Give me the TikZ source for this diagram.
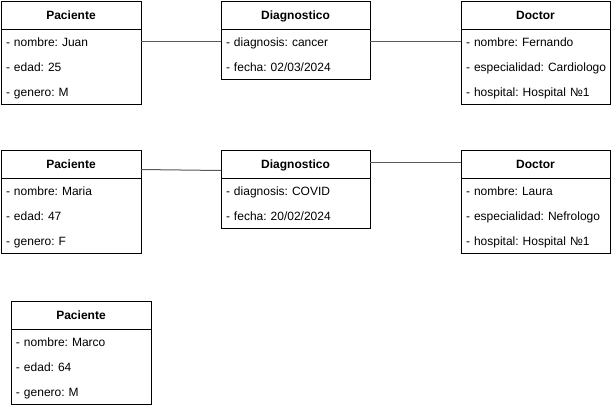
\documentclass[tikz,border=0pt]{standalone}
\usepackage{fontspec}
\setmainfont{Liberation Sans}
\usepackage{tikz}
\usetikzlibrary{positioning}
\newcommand{\attr}[1]{\strut\mbox{- #1}}
\tikzset{
  classhead/.style={draw,line width=1pt,outer sep=0pt,inner sep=0pt,anchor=north west,
              minimum height=28pt,text height=8.6pt,text depth=0pt,
              font=\fontsize{12}{14}\selectfont\bfseries},
  classbody/.style={draw,line width=1pt,outer sep=0pt,inner xsep=5pt,inner ysep=0pt,
              align=left,font=\fontsize{12}{25}\selectfont\frenchspacing},
  link/.style={draw=black!65,line width=1pt}
}

\begin{document}
\begin{tikzpicture}[x=1pt,y=-1pt]
  \path[use as bounding box,fill=white] (0,0) rectangle (612,405);

  % primer diagnostico
  \node[classhead,minimum width=140pt] (pacJuan) at (1,1) {Paciente};
  \node[classbody,text width=130pt,below=0pt of pacJuan] (pacJuanAttr)
    {\attr{nombre: Juan}\\\attr{edad: 25}\\\attr{genero: M}};
  \node[classhead,minimum width=149pt] (diagJuan) at (221,1) {Diagnostico};
  \node[classbody,text width=139pt,below=0pt of diagJuan] (diagJuanAttr)
    {\attr{diagnosis: cancer}\\\attr{fecha: 02/03/2024}};
  \node[classhead,minimum width=149pt] (docFernando) at (461,1) {Doctor};
  \node[classbody,text width=139pt,below=0pt of docFernando] (docFernandoAttr)
    {\attr{nombre: Fernando}\\\attr{especialidad: Cardiologo}\\\attr{hospital: Hospital №1}};

  % segundo diagnostico
  \node[classhead,minimum width=140pt] (pacMaria) at (1,150) {Paciente};
  \node[classbody,text width=130pt,below=0pt of pacMaria] (pacMariaAttr)
    {\attr{nombre: Maria}\\\attr{edad: 47}\\\attr{genero: F}};
  \node[classhead,minimum width=149pt] (diagMaria) at (221,150) {Diagnostico};
  \node[classbody,text width=139pt,below=0pt of diagMaria] (diagMariaAttr)
    {\attr{diagnosis: COVID}\\\attr{fecha: 20/02/2024}};
  \node[classhead,minimum width=149pt] (docLaura) at (461,150) {Doctor};
  \node[classbody,text width=139pt,below=0pt of docLaura] (docLauraAttr)
    {\attr{nombre: Laura}\\\attr{especialidad: Nefrologo}\\\attr{hospital: Hospital №1}};

  % paciente sin diagnostico
  \node[classhead,minimum width=140pt] (pacMarco) at (11,301) {Paciente};
  \node[classbody,text width=130pt,below=0pt of pacMarco] (pacMarcoAttr)
    {\attr{nombre: Marco}\\\attr{edad: 64}\\\attr{genero: M}};

  \draw[link] ([yshift=-12.5pt]pacJuanAttr.north east) -- ([yshift=-12.5pt]diagJuanAttr.north west);
  \draw[link] ([yshift=-12.5pt]diagJuanAttr.north east) -- ([yshift=-12.5pt]docFernandoAttr.north west);
  \draw[link] ([yshift=-5.5pt]pacMaria.east) -- ([yshift=-6.5pt]diagMaria.west);
  \draw[link] ([yshift=1.5pt]diagMaria.east) -- ([yshift=1.5pt]docLaura.west);
\end{tikzpicture}
\end{document}
